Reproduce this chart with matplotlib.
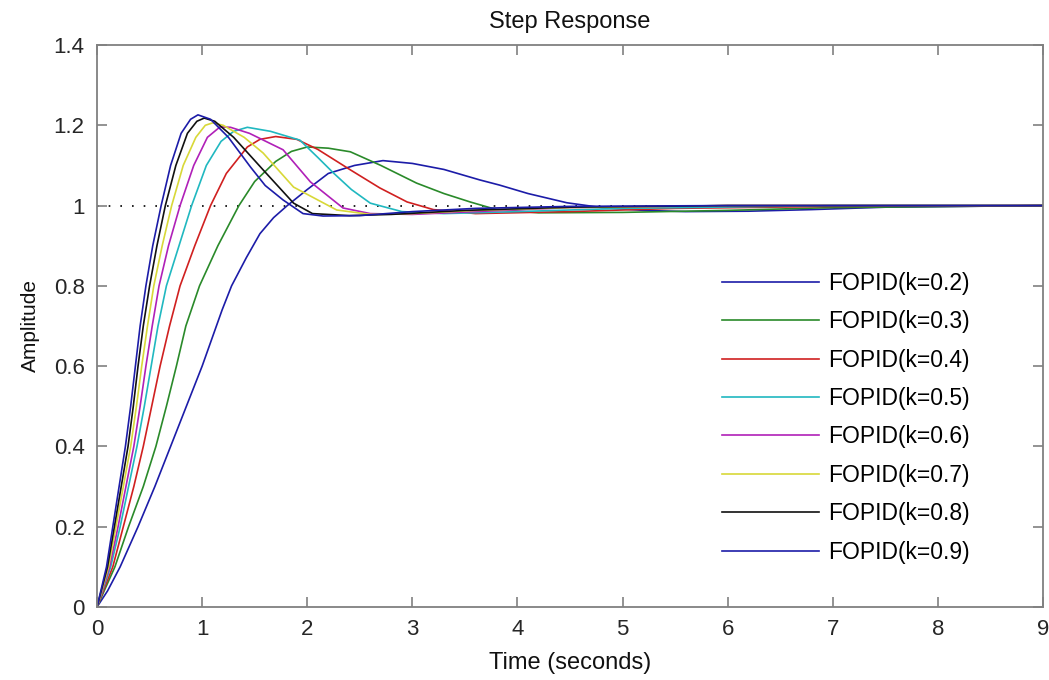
import numpy as np
import matplotlib.pyplot as plt

# step response data, one curve per k
labels = ["FOPID(k=0.2)", "FOPID(k=0.3)", "FOPID(k=0.4)", "FOPID(k=0.5)",
          "FOPID(k=0.6)", "FOPID(k=0.7)", "FOPID(k=0.8)", "FOPID(k=0.9)"]
colors = ["#1c1ca8", "#2a8a2a", "#d02020", "#20b8c0",
          "#b020b8", "#d8d838", "#111111", "#1c1ca8"]

t_k2 = [0, 0.1, 0.22, 0.39, 0.55, 0.7, 0.85, 1.0, 1.19, 1.28, 1.42, 1.55, 1.68, 1.81,
        2.0, 2.2, 2.45, 2.72, 3.0, 3.3, 3.64, 3.83, 4.1, 4.47, 4.8, 5.2, 5.6, 6.2, 6.8, 7.5, 9]
y_k2 = [0, 0.04, 0.1, 0.2, 0.3, 0.4, 0.5, 0.6, 0.74, 0.8, 0.87, 0.93, 0.97, 1.0,
        1.04, 1.08, 1.10, 1.112, 1.105, 1.09, 1.064, 1.051, 1.03, 1.007, 0.995, 0.988, 0.985, 0.986, 0.99, 0.996, 1.0]

t_k3 = [0, 0.17, 0.3, 0.44, 0.56, 0.66, 0.755, 0.845, 0.975, 1.15, 1.35, 1.5, 1.7,
        1.85, 2.0, 2.2, 2.41, 2.7, 3.04, 3.3, 3.55, 3.8, 4.2, 5.0, 6.0, 7.0, 9]
y_k3 = [0, 0.1, 0.2, 0.3, 0.4, 0.5, 0.6, 0.7, 0.8, 0.9, 1.0, 1.06, 1.11,
        1.135, 1.146, 1.143, 1.134, 1.10, 1.056, 1.03, 1.009, 0.99, 0.982, 0.983, 0.988, 0.995, 1.0]

t_k4 = [0, 0.15, 0.25, 0.35, 0.44, 0.52, 0.6, 0.69, 0.79, 0.93, 1.08, 1.23,
        1.43, 1.55, 1.7, 1.9, 2.1, 2.41, 2.69, 2.95, 3.2, 3.6, 4.5, 5.5, 7.0, 9]
y_k4 = [0, 0.1, 0.2, 0.3, 0.4, 0.5, 0.6, 0.7, 0.8, 0.9, 1.0, 1.08,
        1.146, 1.165, 1.172, 1.165, 1.14, 1.089, 1.044, 1.009, 0.99, 0.98, 0.985, 0.993, 0.998, 1.0]

t_k5 = [0, 0.13, 0.22, 0.3, 0.38, 0.45, 0.515, 0.58, 0.66, 0.78, 0.9, 1.04,
        1.18, 1.3, 1.43, 1.65, 1.93, 2.1, 2.25, 2.42, 2.6, 2.9, 3.3, 4.0, 5.0, 7.0, 9]
y_k5 = [0, 0.1, 0.2, 0.3, 0.4, 0.5, 0.6, 0.7, 0.8, 0.9, 1.0, 1.1,
        1.16, 1.185, 1.195, 1.185, 1.163, 1.12, 1.081, 1.04, 1.006, 0.985, 0.98, 0.985, 0.993, 1.0, 1.0]

t_k6 = [0, 0.12, 0.2, 0.275, 0.35, 0.41, 0.465, 0.525, 0.59, 0.68, 0.79, 0.92,
        1.05, 1.17, 1.27, 1.45, 1.77, 2.03, 2.34, 2.6, 3.0, 3.6, 4.5, 6.0, 9]
y_k6 = [0, 0.1, 0.2, 0.3, 0.4, 0.5, 0.6, 0.7, 0.8, 0.9, 1.0, 1.1,
        1.17, 1.196, 1.195, 1.18, 1.139, 1.059, 0.994, 0.98, 0.978, 0.985, 0.995, 1.0, 1.0]

t_k7 = [0, 0.11, 0.18, 0.25, 0.32, 0.375, 0.425, 0.48, 0.54, 0.62, 0.71, 0.82,
        0.94, 1.03, 1.1, 1.2, 1.4, 1.58, 1.87, 2.28, 2.6, 3.0, 3.6, 4.5, 6.0, 9]
y_k7 = [0, 0.1, 0.2, 0.3, 0.4, 0.5, 0.6, 0.7, 0.8, 0.9, 1.0, 1.1,
        1.17, 1.2, 1.206, 1.2, 1.17, 1.131, 1.046, 0.989, 0.978, 0.98, 0.988, 0.995, 1.0, 1.0]

t_k8 = [0, 0.1, 0.165, 0.23, 0.295, 0.345, 0.39, 0.44, 0.5, 0.57, 0.65, 0.75,
        0.86, 0.95, 1.02, 1.12, 1.3, 1.58, 1.87, 2.05, 2.4, 2.8, 3.5, 4.5, 6.0, 9]
y_k8 = [0, 0.1, 0.2, 0.3, 0.4, 0.5, 0.6, 0.7, 0.8, 0.9, 1.0, 1.1,
        1.18, 1.21, 1.218, 1.21, 1.17, 1.089, 1.006, 0.98, 0.975, 0.978, 0.988, 0.996, 1.0, 1.0]

t_k9 = [0, 0.09, 0.15, 0.21, 0.27, 0.32, 0.365, 0.41, 0.465, 0.53, 0.61, 0.7,
        0.8, 0.89, 0.96, 1.08, 1.25, 1.46, 1.6, 1.77, 1.96, 2.15, 2.5, 3.0, 3.6, 4.5, 6.0, 9]
y_k9 = [0, 0.1, 0.2, 0.3, 0.4, 0.5, 0.6, 0.7, 0.8, 0.9, 1.0, 1.1,
        1.18, 1.215, 1.226, 1.215, 1.17, 1.096, 1.05, 1.014, 0.98, 0.974, 0.975, 0.985, 0.993, 0.998, 1.0, 1.0]

final_value = 1.0
x_ticks = [0, 1, 2, 3, 4, 5, 6, 7, 8, 9]
y_ticks = [0, 0.2, 0.4, 0.6, 0.8, 1, 1.2, 1.4]
y_ticklabels = ["0", "0.2", "0.4", "0.6", "0.8", "1", "1.2", "1.4"]

times = [t_k2, t_k3, t_k4, t_k5, t_k6, t_k7, t_k8, t_k9]
resp = [y_k2, y_k3, y_k4, y_k5, y_k6, y_k7, y_k8, y_k9]

plt.rcParams['font.family'] = ["Liberation Sans", "DejaVu Sans"]

fig = plt.figure(figsize=(10.49, 6.8), dpi=100)
ax = fig.add_axes([0.0925, 0.1074, 0.9018, 0.8264])

ax.axhline(final_value, color="black", lw=1.2, ls=(0, (1, 6)), zorder=1)
for t, y, c, lab in zip(times, resp, colors, labels):
    ax.plot(t, y, color=c, lw=1.2, label=lab, zorder=2)

ax.set_xlim(0, 9)
ax.set_ylim(0, 1.4)
ax.set_xticks(x_ticks)
ax.set_yticks(y_ticks)
ax.set_yticklabels(y_ticklabels)
for s in ax.spines.values():
    s.set_color("#808080")
    s.set_linewidth(1.3)
ax.tick_params(direction="in", length=7, width=1.2, color="#808080",
               top=True, right=True, labelsize=16, labelcolor="#262626", pad=9)

ax.set_title("Step Response", fontsize=17, color="#111111", pad=12)
ax.set_xlabel("Time (seconds)", fontsize=17, color="#111111", labelpad=8)
ax.set_ylabel("Amplitude", fontsize=15, color="#111111", labelpad=10)

ax.legend(loc="upper left", bbox_to_anchor=(0.661, 0.596), frameon=False,
          fontsize=16.5, handlelength=4.2, handletextpad=0.42, labelspacing=0.67,
          borderpad=0, borderaxespad=0)

fig.savefig("out.png", dpi=100)
